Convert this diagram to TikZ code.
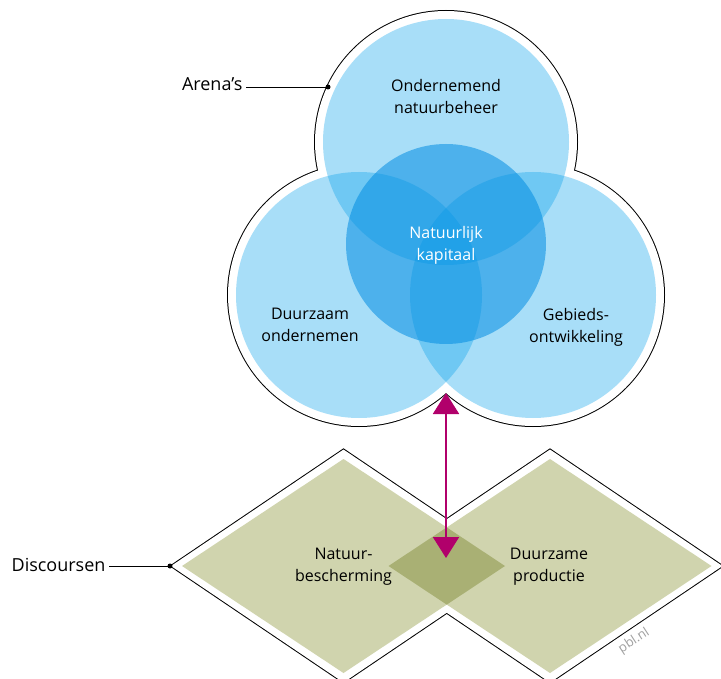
\documentclass[tikz,border=0pt]{standalone}
\usepackage{fontspec}
\setmainfont{Open Sans}
\usepackage{tikz}
\usetikzlibrary{arrows.meta,positioning,calc}

\definecolor{arenablue}{RGB}{7,161,235}
\definecolor{kernblue}{RGB}{0,140,226}
\definecolor{discolive}{RGB}{208,212,174}
\definecolor{discoverlap}{RGB}{169,176,116}
\definecolor{pblmagenta}{RGB}{177,0,107}
\definecolor{pblgrey}{RGB}{160,160,160}

\begin{document}
\begin{tikzpicture}[x=1pt,y=-1pt,
    veld/.style={align=center,font=\fontsize{16}{22}\selectfont},
    zijtekst/.style={font=\fontsize{18}{22}\selectfont},
    leader/.style={line width=0.8pt}]
    \useasboundingbox (0,0) rectangle (721,679);

    % Outline of the arenas
    \foreach \x/\y in {446/142, 359/295, 533/295} {
        \draw[line width=2pt] (\x,\y) circle (131pt);
    }
    \foreach \x/\y in {446/142, 359/295, 533/295} {
        \fill[white] (\x,\y) circle (131pt);
    }

    % Arenas
    \foreach \x/\y in {446/142, 359/295, 533/295} {
        \fill[arenablue,opacity=0.35] (\x,\y) circle (123pt);
    }
    \fill[kernblue,opacity=0.54] (446,244) circle (100pt);

    % Outline of the discourses
    \foreach \x in {343.5, 550} {
        \draw[line width=2pt,line join=miter] (\x-172.5,566) -- (\x,449.5) -- (\x+172.5,566) -- (\x,682.5) -- cycle;
    }
    \foreach \x in {343.5, 550} {
        \fill[white] (\x-172.5,566) -- (\x,449.5) -- (\x+172.5,566) -- (\x,682.5) -- cycle;
    }

    % Discourses
    \foreach \x in {343.5, 550} {
        \fill[discolive] (\x-161.5,566) -- (\x,459) -- (\x+161.5,566) -- (\x,673) -- cycle;
    }
    \fill[discoverlap] (388.5,566) -- (446.75,527.4) -- (505,566) -- (446.75,604.6) -- cycle;

    % Labels
    \node[veld] (ondernemend) at (446,97) {Ondernemend\\natuurbeheer};
    \node[veld,text=white] (kapitaal) at (446,245) {Natuurlijk\\kapitaal};
    \node[veld] (duurzaam) at (310,325) {Duurzaam\\ondernemen};
    \node[veld] (gebieds) at (576,327) {Gebieds-\\ontwikkeling};
    \node[veld] (bescherming) at (343.5,567) {Natuur-\\bescherming};
    \node[veld] (productie) at (549,567) {Duurzame\\productie};

    % Side labels
    \coordinate (arenadot) at (328,87);
    \node[zijtekst,anchor=base east] (arenas) at (246,91) {Arena’s};
    \draw[leader] (arenas.east |- arenadot) -- (arenadot);
    \fill (arenadot) circle (2.5pt);

    \coordinate (discdot) at (170,566);
    \node[zijtekst,anchor=base east] (discoursen) at (109,571) {Discoursen};
    \draw[leader] (discoursen.east |- discdot) -- (discdot);
    \fill (discdot) circle (2.5pt);

    % Arena <-> discourse
    \coordinate (arenatip) at (446,393);
    \coordinate (disctip) at (446,558);
    \draw[pblmagenta,line width=2pt,{Triangle[width=26pt,length=21pt]}-{Triangle[width=26pt,length=21pt]}] (disctip) -- (arenatip);

    \node[text=pblgrey,font=\fontsize{13}{13}\selectfont,rotate=33] (pbl) at (634,641) {pbl.nl};
\end{tikzpicture}
\end{document}
